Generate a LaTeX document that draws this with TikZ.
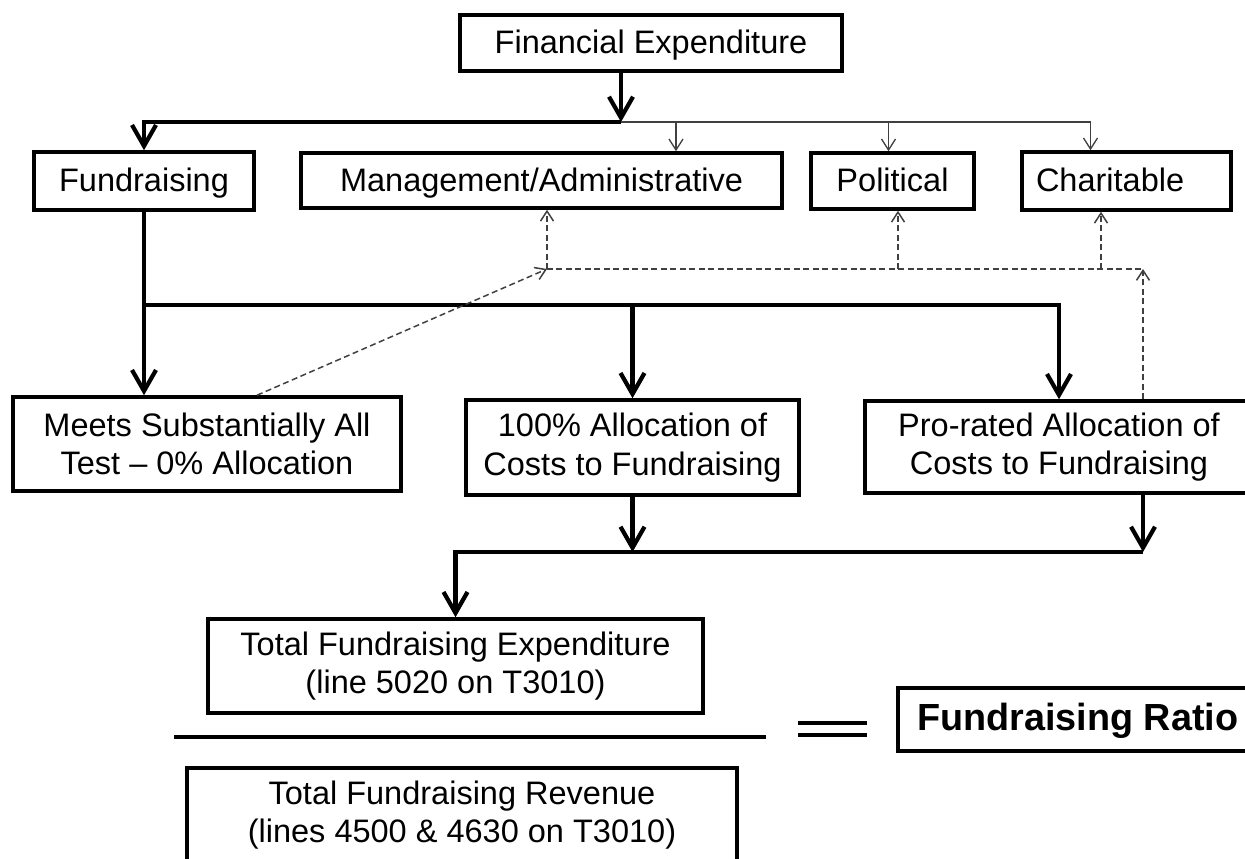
\documentclass[tikz,border=0pt]{standalone}
\usepackage{fontspec}
\setmainfont{Liberation Sans}
\usetikzlibrary{arrows.meta}
\definecolor{linegray}{HTML}{404040}
\tikzstyle{item} = [rectangle, draw=black, line width=2pt, fill=white, align=center, inner sep=0pt, font=\fontsize{18.5}{22}\selectfont]
\tikzstyle{oneline} = [item, text height=0.6cm, text depth=0.16cm]
\tikzstyle{flow} = [line width=2.4pt, -{Straight Barb[length=0.42cm,width=0.48cm]}]
\tikzstyle{thinflow} = [draw=linegray, line width=0.75pt, -{Straight Barb[length=0.22cm,width=0.28cm]}]
\tikzstyle{dashflow} = [draw=linegray, line width=0.85pt, dash pattern=on 3.4pt off 2pt, -{Straight Barb[length=0.2cm,width=0.26cm]}]

\begin{document}
\begin{tikzpicture}
        \useasboundingbox (0,0) rectangle (24.9,-17.18);
        \node[oneline, minimum width=7.64cm, minimum height=1.12cm] (fin) at (13.02,-0.86) {Financial Expenditure};
        \node[oneline, minimum width=4.4cm, minimum height=1.16cm] (fund) at (2.88,-3.62) {Fundraising};
        \node[oneline, minimum width=9.62cm, minimum height=1.1cm] (mgmt) at (10.83,-3.61) {Management/Administrative};
        \node[oneline, minimum width=3.26cm, minimum height=1.12cm] (pol) at (17.85,-3.62) {Political};
        \node[oneline, minimum height=1.16cm, text width=3.62cm, inner xsep=0.28cm, align=left] (char) at (22.53,-3.62) {Charitable};
        \node[item, minimum width=7.76cm, minimum height=1.88cm] (meets) at (4.14,-8.88) {Meets Substantially All\\Test – 0\% Allocation};
        \node[item, minimum width=6.66cm, minimum height=1.9cm] (full) at (12.65,-8.95) {100\% Allocation of\\Costs to Fundraising};
        \node[item, minimum width=7.76cm, minimum height=1.84cm] (prorata) at (21.18,-8.94) {Pro-rated Allocation of\\Costs to Fundraising};
        \node[item, minimum width=9.9cm, minimum height=1.88cm] (totexp) at (9.11,-13.32) {Total Fundraising Expenditure\\(line 5020 on T3010)};
        \node[item, minimum width=11cm, minimum height=1.88cm] (totrev) at (9.24,-16.3) {Total Fundraising Revenue\\(lines 4500 \& 4630 on T3010)};
        \node[oneline, anchor=west, minimum width=7.2cm, minimum height=1.26cm, font=\fontsize{21.5}{25}\selectfont\bfseries] (ratio) at (17.92,-14.39) {Fundraising Ratio};
        \coordinate (j1) at (12.42,-2.44);
        \coordinate (j2) at (2.88,-6.1);
        \coordinate (j3) at (22.86,-11.04);
        \coordinate (t1) at (13.52,-2.44);
        \coordinate (t2) at (17.77,-2.44);
        \coordinate (t3) at (21.81,-2.44);
        \coordinate (d1) at (10.94,-5.38);
        \coordinate (d2) at (22.86,-5.38);
        \coordinate (d3) at (17.96,-5.38);
        \coordinate (d4) at (22.02,-5.38);
        \begin{scope}[flow]
            \draw (fin.south -| j1) -- (j1);
            \draw (j1) -| (fund.north);
            \draw[-] (fund.south) -- (j2);
            \draw (j2) -- (j2 |- meets.north);
            \draw (j2) -| (prorata.north);
            \draw (j2 -| full.north) -- (full.north);
            \draw (full.south) -- (full.south |- j3);
            \draw (prorata.south -| j3) -- (j3);
            \draw (j3) -| (totexp.north);
        \end{scope}
        \begin{scope}[thinflow]
            \draw[-] (j1) -- (t3);
            \draw (t1) -- (t1 |- mgmt.north);
            \draw (t2) -- (t2 |- pol.north);
            \draw (t3) -- (t3 |- char.north);
        \end{scope}
        \begin{scope}[dashflow]
            \draw ([xshift=1cm]meets.north) -- (d1);
            \draw (prorata.north -| d2) -- (d2);
            \draw[-] (d1) -- (d2);
            \draw (d1) -- (d1 |- mgmt.south);
            \draw (d3) -- (d3 |- pol.south);
            \draw (d4) -- (d4 |- char.south);
        \end{scope}
        \draw[line width=2.3pt] (3.48,-14.74) -- (15.32,-14.74);
        \draw[line width=2.2pt] (15.96,-14.46) -- (17.34,-14.46);
        \draw[line width=2.2pt] (15.96,-14.70) -- (17.34,-14.70);
    \end{tikzpicture}
\end{document}
